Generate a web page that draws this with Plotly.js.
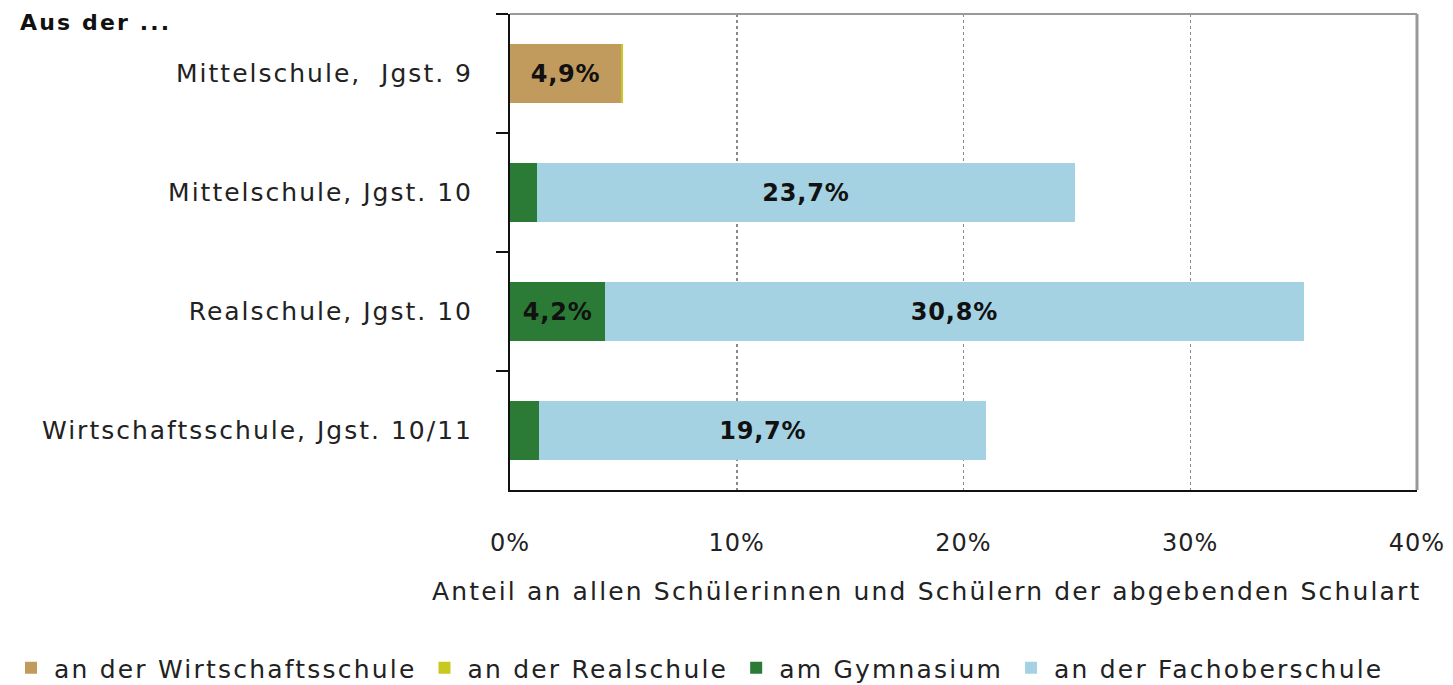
<!DOCTYPE html>
<html>
<head>
<meta charset="utf-8">
<script src="https://cdn.plot.ly/plotly-3.0.1.min.js"></script>
<style>
html,body{margin:0;padding:0;background:#fff}
#chart{width:1453px;height:685px}
.ytick text{letter-spacing:2px}
.xtick text{letter-spacing:1px}
.legendtext{letter-spacing:2.2px}
.annotation-text{letter-spacing:2.15px}
.bartext{letter-spacing:0.8px}
</style>
</head>
<body>
<div id="chart"></div>
<script>
const categories = ["Mittelschule,\u00a0 Jgst. 9", "Mittelschule, Jgst. 10", "Realschule, Jgst. 10", "Wirtschaftsschule, Jgst. 10/11"];
const seriesNames = ["an der Wirtschaftsschule", "an der Realschule", "am Gymnasium", "an der Fachoberschule"];
const wirtschaftsschule = [4.9, null, null, null];
const realschule = [0.1, null, null, null];
const gymnasium = [null, 1.2, 4.2, 1.3];
const fachoberschule = [null, 23.7, 30.8, 19.7];
const colors = ["#C19A5E", "#C8C81E", "#2B7A35", "#A5D2E2"];
const xTickVals = [0, 10, 20, 30, 40];
const xTickText = ["0%", "10%", "20%", "30%", "40%"];

const W = 1453, H = 685;
const L = 510, R = 1417, T = 14, B = 490;
const px = x => (x - L) / (R - L);
const py = y => (B - y) / (B - T);

function labels(vals) {
  return vals.map(v => (v !== null && v >= 2) ? v.toFixed(1).replace('.', ',') + '%' : '');
}

const seriesVals = [wirtschaftsschule, realschule, gymnasium, fachoberschule];
const sans = '"DejaVu Sans", "Open Sans", sans-serif';

const traces = seriesVals.map((vals, i) => ({
  type: 'bar',
  orientation: 'h',
  name: seriesNames[i],
  y: categories,
  x: vals,
  marker: { color: colors[i], line: { width: 0 } },
  text: labels(vals),
  textposition: 'inside',
  insidetextanchor: 'middle',
  textangle: 0,
  constraintext: 'none',
  textfont: { family: sans, size: 24, color: '#111', weight: 'bold' },
  hoverinfo: 'skip'
}));

const layout = {
  width: W, height: H,
  margin: { l: L, r: W - R, t: T, b: H - B, autoexpand: false },
  paper_bgcolor: '#fff',
  plot_bgcolor: '#fff',
  barmode: 'stack',
  bargap: 0.51,
  showlegend: true,
  legend: {
    orientation: 'h',
    x: px(8), xanchor: 'left',
    y: py(668), yanchor: 'middle',
    traceorder: 'normal',
    font: { family: sans, size: 25, color: '#222' },
    itemwidth: 36,
    tracegroupgap: 0
  },
  xaxis: {
    range: [0, 40],
    tickvals: xTickVals,
    ticktext: xTickText,
    ticks: '',
    ticklabelstandoff: 30,
    tickfont: { family: sans, size: 24, color: '#222' },
    showgrid: true,
    gridcolor: '#888',
    griddash: 'dot',
    gridwidth: 1.5,
    zeroline: false,
    showline: true,
    linecolor: '#111',
    linewidth: 2,
    fixedrange: true
  },
  yaxis: {
    type: 'category',
    categoryorder: 'array',
    categoryarray: categories,
    autorange: 'reversed',
    tickson: 'boundaries',
    ticks: 'outside',
    ticklen: 12,
    tickwidth: 2,
    tickcolor: '#111',
    ticklabelstandoff: 30,
    tickfont: { family: sans, size: 25, color: '#222' },
    showgrid: false,
    zeroline: false,
    showline: true,
    linecolor: '#111',
    linewidth: 2,
    fixedrange: true
  },
  shapes: [
    { type: 'line', xref: 'paper', yref: 'paper', x0: 0, x1: 1, y0: 1, y1: 1, line: { color: '#999', width: 2 } },
    { type: 'line', xref: 'paper', yref: 'paper', x0: 1, x1: 1, y0: 0, y1: 1, line: { color: '#999', width: 3 } }
  ],
  annotations: [
    { xref: 'paper', yref: 'paper', x: px(18), y: py(22), xanchor: 'left', yanchor: 'middle',
      text: '<b>Aus der ...</b>', showarrow: false, font: { family: sans, size: 22, color: '#111' } },
    { xref: 'paper', yref: 'paper', x: px(430), y: py(591), xanchor: 'left', yanchor: 'middle',
      text: 'Anteil an allen Schülerinnen und Schülern der abgebenden Schulart', showarrow: false,
      font: { family: sans, size: 25, color: '#222' } }
  ]
};

Plotly.newPlot('chart', traces, layout, { staticPlot: true, displayModeBar: false });
</script>
</body>
</html>
